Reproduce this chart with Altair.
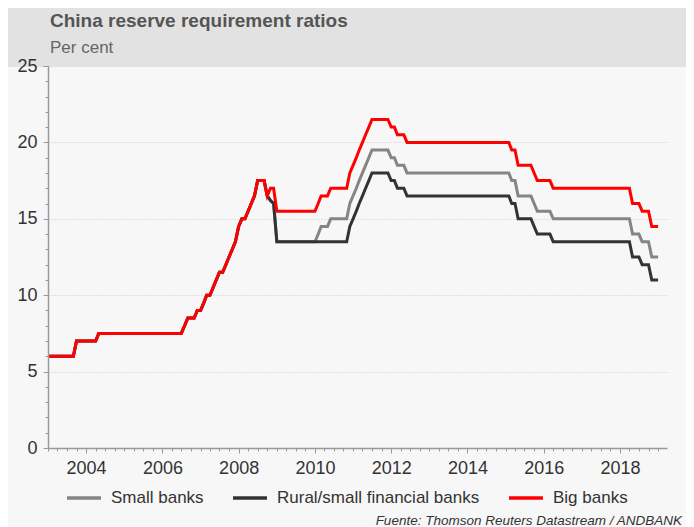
import altair as alt
import pandas as pd

FONT = "Liberation Sans, Arial, sans-serif"

title_text = "China reserve requirement ratios"
subtitle_text = "Per cent"
source_text = "Fuente: Thomson Reuters Datastream / ANDBANK"

series_names = ["Small banks", "Rural/small financial banks", "Big banks"]
series_colors = ["#858585", "#333333", "#ff0000"]

# shared history (all bank types) up to Sep 2008, month points (YYYY-MM)
common_dates = ["2003-01", "2003-09", "2003-10", "2004-04", "2004-05", "2006-07", "2006-08",
                "2006-09", "2006-11", "2006-12", "2007-01", "2007-02", "2007-03", "2007-04",
                "2007-05", "2007-06", "2007-07", "2007-08", "2007-09", "2007-10", "2007-11",
                "2007-12", "2008-01", "2008-02", "2008-03", "2008-04", "2008-05", "2008-06",
                "2008-07", "2008-09"]
common_vals = [6, 6, 7, 7, 7.5, 7.5, 8, 8.5, 8.5, 9, 9, 9.5, 10, 10, 10.5, 11, 11.5, 11.5, 12,
               12.5, 13, 13.5, 14.5, 15, 15, 15.5, 16, 16.5, 17.5, 17.5]

big_dates = ["2008-10", "2008-11", "2008-12", "2009-01", "2010-01", "2010-02", "2010-03",
             "2010-05", "2010-06", "2010-11", "2010-12", "2011-01", "2011-02", "2011-03",
             "2011-04", "2011-05", "2011-06", "2011-07", "2011-12", "2012-01", "2012-02",
             "2012-03", "2012-05", "2012-06", "2015-02", "2015-03", "2015-04", "2015-05",
             "2015-09", "2015-10", "2015-11", "2016-03", "2016-04", "2018-04", "2018-05",
             "2018-07", "2018-08", "2018-10", "2018-11", "2019-01"]
big_vals = [16.5, 17, 17, 15.5, 15.5, 16, 16.5, 16.5, 17, 17, 18, 18.5, 19, 19.5, 20, 20.5, 21,
            21.5, 21.5, 21, 21, 20.5, 20.5, 20, 20, 19.5, 19.5, 18.5, 18.5, 18, 17.5, 17.5, 17,
            17, 16, 16, 15.5, 15.5, 14.5, 14.5]

small_dates = big_dates
small_vals = [16.5, 16.2, 16, 13.5, 13.5, 14, 14.5, 14.5, 15, 15, 16, 16.5, 17, 17.5, 18, 18.5,
              19, 19.5, 19.5, 19, 19, 18.5, 18.5, 18, 18, 17.5, 17.5, 16.5, 16.5, 16, 15.5,
              15.5, 15, 15, 14, 14, 13.5, 13.5, 12.5, 12.5]

rural_dates = ["2008-10", "2008-11", "2008-12", "2009-01", "2010-11", "2010-12", "2011-01",
               "2011-02", "2011-03", "2011-04", "2011-05", "2011-06", "2011-07", "2011-12",
               "2012-01", "2012-02", "2012-03", "2012-05", "2012-06", "2015-02", "2015-03",
               "2015-04", "2015-05", "2015-09", "2015-10", "2015-11", "2016-03", "2016-04",
               "2018-04", "2018-05", "2018-07", "2018-08", "2018-10", "2018-11", "2019-01"]
rural_vals = [16.5, 16.2, 16, 13.5, 13.5, 14.5, 15, 15.5, 16, 16.5, 17, 17.5, 18, 18, 17.5,
              17.5, 17, 17, 16.5, 16.5, 16, 16, 15, 15, 14.5, 14, 14, 13.5, 13.5, 12.5, 12.5,
              12, 12, 11, 11]

x_tick_years = [2004, 2006, 2008, 2010, 2012, 2014, 2016, 2018]
y_tick_values = [0, 5, 10, 15, 20, 25]

rows = []
for name, dates, vals in [
    (series_names[0], common_dates + small_dates, common_vals + small_vals),
    (series_names[1], common_dates + rural_dates, common_vals + rural_vals),
    (series_names[2], common_dates + big_dates, common_vals + big_vals),
]:
    assert len(dates) == len(vals)
    for d, v in zip(dates, vals):
        rows.append({"series": name, "date": d + "-01", "value": v})
df = pd.DataFrame(rows)

W, H = 619, 382

x_scale = alt.Scale(type="utc",
                    domain=[alt.DateTime(year=2003, month=1, date=1, utc=True),
                            alt.DateTime(year=2019, month=3, date=27, utc=True)])
y_scale = alt.Scale(domain=[0, 25], nice=False, zero=True)

major_x = [alt.DateTime(year=y, month=1, date=1, utc=True) for y in x_tick_years]
minor_x = [alt.DateTime(year=y, month=m, date=1, utc=True)
           for y in range(2003, 2020) for m in (1, 4, 7, 10)
           if (y, m) <= (2019, 1)]

AX = "#9a9a9a"

header = alt.Chart(pd.DataFrame({"k": [0]})).mark_rect(color="#e2e2e2").encode(
    x=alt.value(-40), x2=alt.value(W + 19), y=alt.value(-58), y2=alt.value(1)
)

title = alt.Chart(pd.DataFrame({"t": [title_text]})).mark_text(
    align="left", baseline="alphabetic", font=FONT, fontSize=19, fontWeight="bold", color="#555555"
).encode(text="t:N", x=alt.value(2), y=alt.value(-39))

subtitle = alt.Chart(pd.DataFrame({"t": [subtitle_text]})).mark_text(
    align="left", baseline="alphabetic", font=FONT, fontSize=17, color="#666666"
).encode(text="t:N", x=alt.value(2), y=alt.value(-13))

grid_layer = alt.Chart(df).mark_point(opacity=0).encode(
    x=alt.X("date:T", scale=x_scale,
            axis=alt.Axis(orient="bottom", values=minor_x, labels=False, domain=False,
                          grid=False, ticks=True, tickSize=3, tickColor=AX, title=None, zindex=1)),
    y=alt.Y("value:Q", scale=y_scale,
            axis=alt.Axis(orient="left", values=[5, 10, 15, 20], labels=False, ticks=False,
                          domain=False, grid=True, gridColor="#c8c8c8", gridDash=[1, 2],
                          gridWidth=1, title=None, zindex=0)),
)

minor_y = alt.Chart(df).mark_point(opacity=0).encode(
    x=alt.X("date:T", scale=x_scale, axis=None),
    y=alt.Y("value:Q", scale=y_scale,
            axis=alt.Axis(orient="left", values=list(range(0, 26)), labels=False, domain=False,
                          grid=False, ticks=True, tickSize=3, tickColor=AX, title=None, zindex=1)),
)

lines = alt.Chart(df).mark_line(strokeWidth=3).encode(
    x=alt.X("date:T", scale=x_scale,
            axis=alt.Axis(orient="bottom", values=major_x, format="%Y", labelFont=FONT,
                          labelFontSize=18, labelColor="#333333", tickSize=5, tickColor=AX,
                          domainColor=AX, domainWidth=1.5, labelPadding=6, grid=False,
                          title=None, zindex=1, labelFlush=False)),
    y=alt.Y("value:Q", scale=y_scale,
            axis=alt.Axis(orient="left", values=y_tick_values, labelFont=FONT, labelFontSize=18,
                          labelColor="#333333", tickSize=5, tickColor=AX, domainColor=AX,
                          domainWidth=1.5, labelPadding=6, grid=False, title=None, zindex=1)),
    color=alt.Color("series:N",
                    scale=alt.Scale(domain=series_names, range=series_colors),
                    legend=alt.Legend(orient="none", legendX=17, legendY=H + 31,
                                      direction="horizontal", title=None, symbolType="stroke",
                                      symbolSize=1156, symbolStrokeWidth=3.5, labelFont=FONT,
                                      labelFontSize=17, labelColor="#333333", labelOffset=8,
                                      labelLimit=400, columnPadding=22, padding=0)),
)

source = alt.Chart(pd.DataFrame({"t": [source_text]})).mark_text(
    align="right", baseline="alphabetic", font=FONT, fontSize=13.5, fontStyle="italic",
    color="#333333"
).encode(text="t:N", x=alt.value(W + 15), y=alt.value(H + 77))

chart = alt.layer(header, title, subtitle, grid_layer, minor_y, lines, source).resolve_axis(
    x="independent", y="independent"
).properties(
    width=W, height=H, padding=0, background="#f7f7f7"
).configure_view(stroke=None)

chart.save("out.html", embed_options={"renderer": "svg", "actions": False})
